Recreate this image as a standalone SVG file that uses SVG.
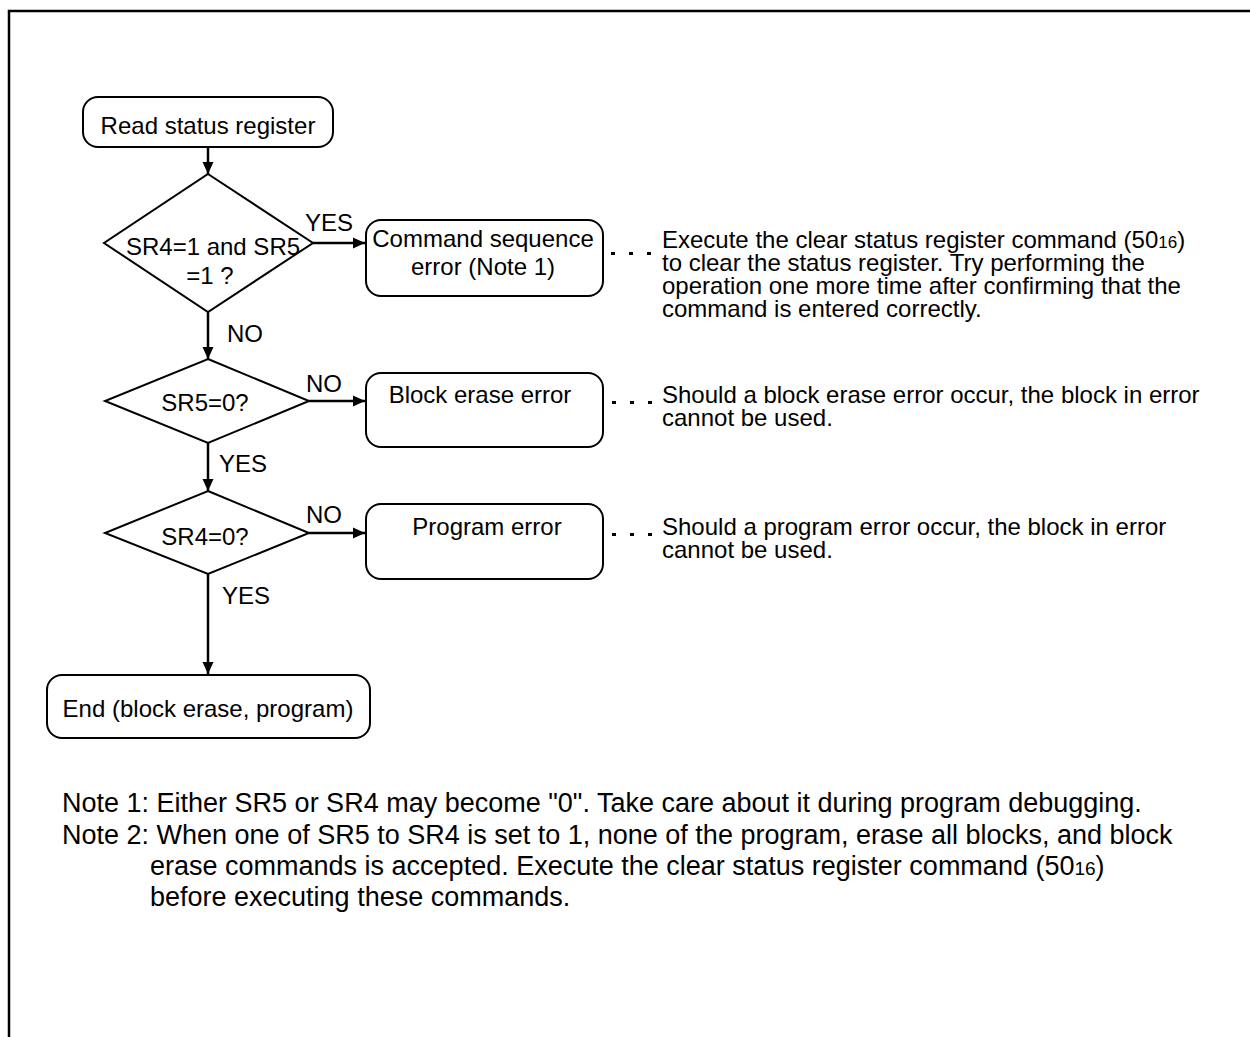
<svg xmlns="http://www.w3.org/2000/svg" width="1250" height="1037" viewBox="0 0 1250 1037">
<defs>
<marker id="ah" markerWidth="13" markerHeight="12" refX="12" refY="6" orient="auto" markerUnits="userSpaceOnUse">
<path d="M0,0.5 L12,6 L0,11.5 Z" fill="#000"/>
</marker>
</defs>
<style>
text{font-family:"Liberation Sans",Arial,Helvetica,sans-serif;font-size:24px;fill:#000}
.box{fill:#fff;stroke:#000;stroke-width:2}
.dia{fill:#fff;stroke:#000;stroke-width:2}
.con{fill:none;stroke:#000;stroke-width:2.5}
.mid{text-anchor:middle}
.dot{fill:#000}
.sub{font-size:17px}
.note{font-size:27px}
.note .sub{font-size:19px}
</style>
<rect width="1250" height="1037" fill="#fff"/>
<path d="M1250,11 L9,11 L9,1037" fill="none" stroke="#000" stroke-width="2.5"/>

<g id="connectors">
<line class="con" x1="208" y1="147" x2="208" y2="174" marker-end="url(#ah)"/>
<line class="con" x1="313" y1="243" x2="365" y2="243" marker-end="url(#ah)"/>
<line class="con" x1="208" y1="312" x2="208" y2="359" marker-end="url(#ah)"/>
<line class="con" x1="309" y1="401" x2="365" y2="401" marker-end="url(#ah)"/>
<line class="con" x1="208" y1="443" x2="208" y2="491" marker-end="url(#ah)"/>
<line class="con" x1="309" y1="533" x2="365" y2="533" marker-end="url(#ah)"/>
<line class="con" x1="208" y1="574" x2="208" y2="674" marker-end="url(#ah)"/>
<text x="305" y="231">YES</text>
<text x="227" y="342">NO</text>
<text x="306" y="392">NO</text>
<text x="219" y="472">YES</text>
<text x="306" y="523">NO</text>
<text x="222" y="604">YES</text>
</g>

<g id="start">
<rect class="box" x="83" y="97" width="250" height="50" rx="15"/>
<text class="mid" x="208" y="134">Read status register</text>
</g>

<g id="dec1">
<polygon class="dia" points="208,174 313,243 208,312 104,243"/>
<text class="mid" x="213" y="255">SR4=1 and SR5</text>
<text class="mid" x="210" y="284">=1 ?</text>
</g>

<g id="cmdseq">
<rect class="box" x="366" y="220" width="237" height="76" rx="15"/>
<text class="mid" x="483" y="247">Command sequence</text>
<text class="mid" x="483" y="275">error (Note 1)</text>
</g>

<g id="dec2">
<polygon class="dia" points="208,359 309,401 208,443 105,401"/>
<text class="mid" x="205" y="411">SR5=0?</text>
</g>

<g id="blockerr">
<rect class="box" x="366" y="373" width="237" height="74" rx="15"/>
<text class="mid" x="480" y="403">Block erase error</text>
</g>

<g id="dec3">
<polygon class="dia" points="208,491 309,533 208,574 105,533"/>
<text class="mid" x="205" y="545">SR4=0?</text>
</g>

<g id="progerr">
<rect class="box" x="366" y="504" width="237" height="75" rx="15"/>
<text class="mid" x="487" y="535">Program error</text>
</g>

<g id="end">
<rect class="box" x="47" y="675" width="323" height="63" rx="15"/>
<text class="mid" x="208" y="717">End (block erase, program)</text>
</g>

<g id="note-cmd">
<rect class="dot" x="611" y="252" width="4" height="3"/>
<rect class="dot" x="629" y="252" width="4" height="3"/>
<rect class="dot" x="647" y="252" width="4" height="3"/>
<text x="662" y="248">Execute the clear status register command (50<tspan class="sub">16</tspan>)</text>
<text x="662" y="271">to clear the status register. Try performing the</text>
<text x="662" y="294">operation one more time after confirming that the</text>
<text x="662" y="317">command is entered correctly.</text>
</g>

<g id="note-block">
<rect class="dot" x="612" y="401" width="4" height="3"/>
<rect class="dot" x="630" y="401" width="4" height="3"/>
<rect class="dot" x="648" y="401" width="4" height="3"/>
<text x="662" y="403">Should a block erase error occur, the block in error</text>
<text x="662" y="426">cannot be used.</text>
</g>

<g id="note-prog">
<rect class="dot" x="612" y="533" width="4" height="3"/>
<rect class="dot" x="630" y="533" width="4" height="3"/>
<rect class="dot" x="648" y="533" width="4" height="3"/>
<text x="662" y="535">Should a program error occur, the block in error</text>
<text x="662" y="558">cannot be used.</text>
</g>

<g id="notes" class="note">
<text class="note" x="62" y="812">Note 1: Either SR5 or SR4 may become "0". Take care about it during program debugging.</text>
<text class="note" x="62" y="844">Note 2: When one of SR5 to SR4 is set to 1, none of the program, erase all blocks, and block</text>
<text class="note" x="150" y="875">erase commands is accepted. Execute the clear status register command (50<tspan class="sub">16</tspan>)</text>
<text class="note" x="150" y="906">before executing these commands.</text>
</g>
</svg>
